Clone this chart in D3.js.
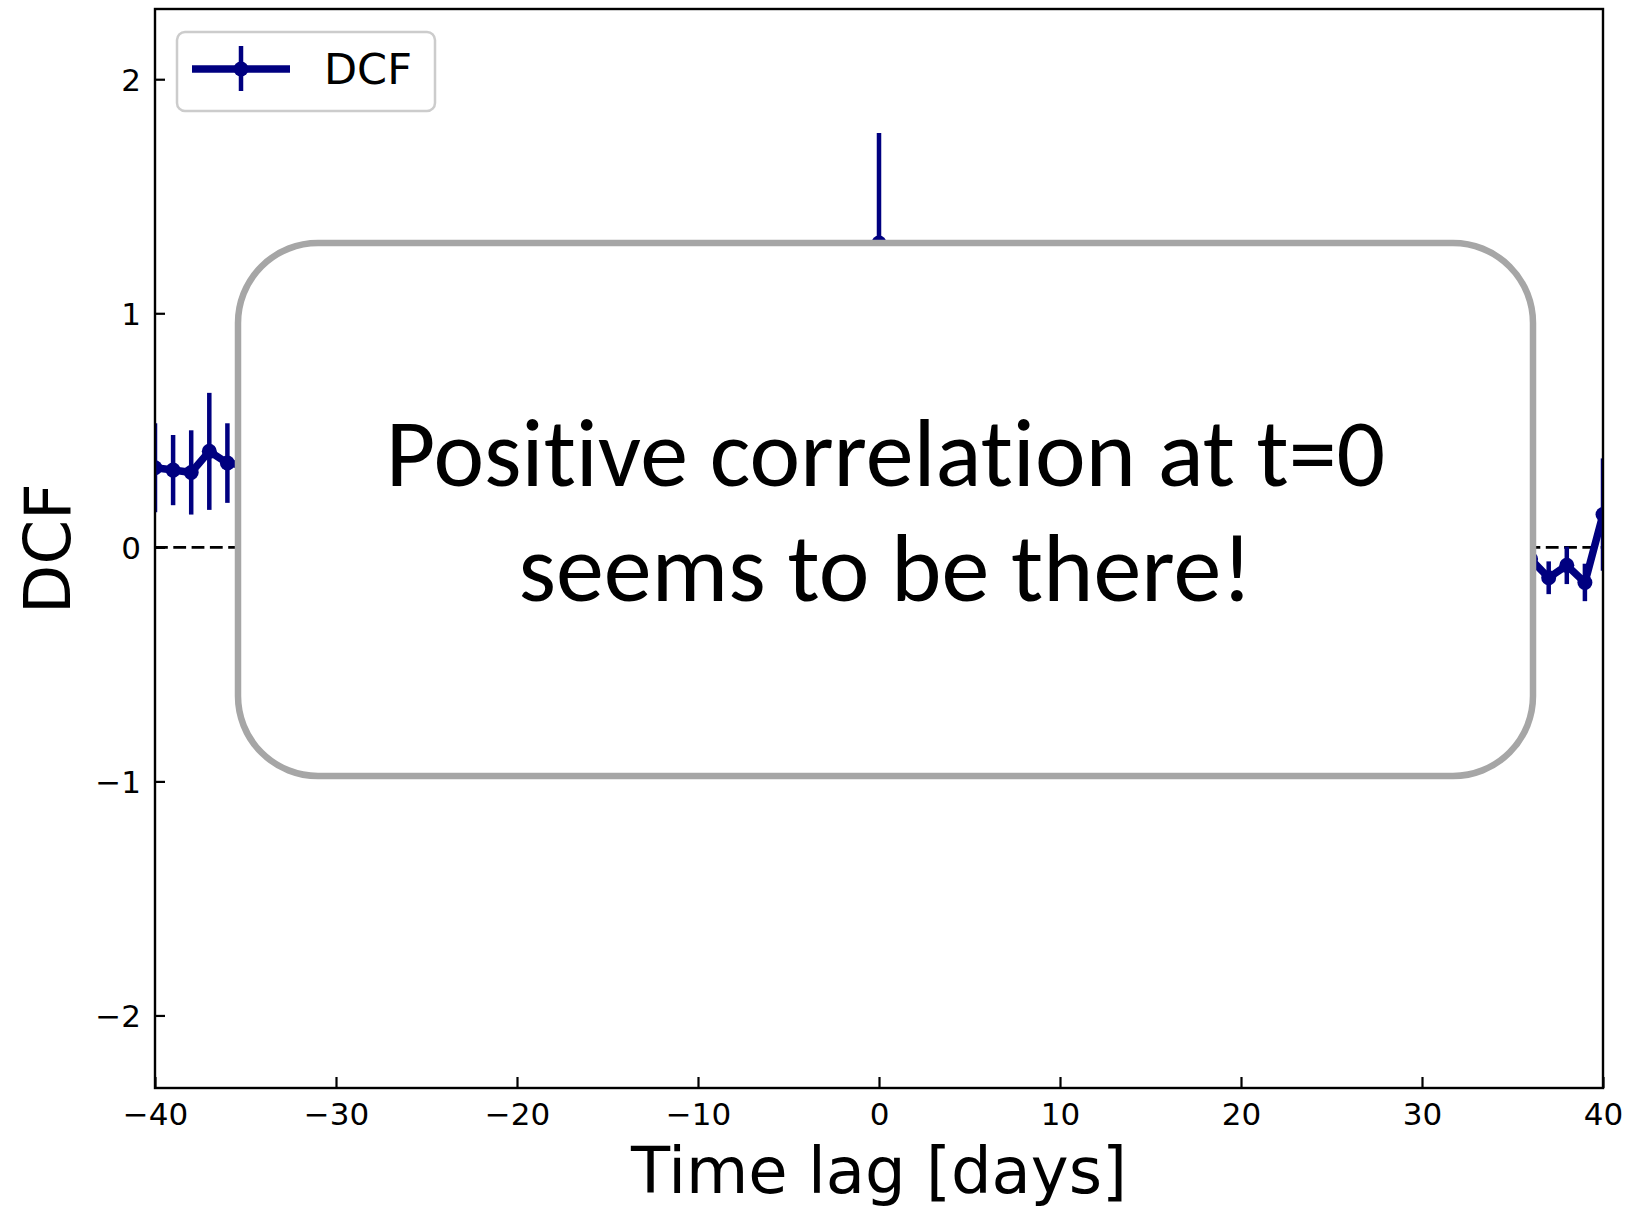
<!DOCTYPE html>
<html>
<head>
<meta charset="utf-8">
<script src="https://cdn.jsdelivr.net/npm/d3@7"></script>
<style>
  html, body { margin: 0; padding: 0; background: #fff; }
  svg { display: block; }
</style>
</head>
<body>
<svg id="chart" width="1630" height="1209"></svg>
<script>
// ---------------- data ----------------
const lags = [-40,-39,-38,-37,-36,-35,-34,-33,-32,-31,-30,-29,-28,-27,-26,-25,-24,-23,-22,-21,
  -20,-19,-18,-17,-16,-15,-14,-13,-12,-11,-10,-9,-8,-7,-6,-5,-4,-3,-2,-1,
  0,1,2,3,4,5,6,7,8,9,10,11,12,13,14,15,16,17,18,19,
  20,21,22,23,24,25,26,27,28,29,30,31,32,33,34,35,36,37,38,39,40];
const dcf = [0.34,0.33,0.32,0.41,0.36,0.35,0.28,0.22,0.15,0.18,0.10,0.05,-0.02,0.04,-0.08,-0.12,-0.05,0.02,0.08,0.12,
  0.06,-0.03,-0.10,-0.15,-0.09,-0.02,0.05,0.11,0.07,0.01,-0.06,-0.11,-0.04,0.03,0.09,0.14,0.20,0.27,0.38,0.55,
  1.30,0.52,0.35,0.22,0.14,0.06,-0.03,-0.09,-0.14,-0.08,0.01,0.07,0.12,0.05,-0.04,-0.12,-0.18,-0.11,-0.03,0.04,
  0.09,0.03,-0.06,-0.13,-0.19,-0.14,-0.07,0.00,0.06,0.02,-0.05,-0.10,-0.16,-0.12,-0.08,-0.06,-0.05,-0.13,-0.077,-0.15,0.14];
const dcfErr = [0.19,0.15,0.18,0.25,0.17,0.18,0.17,0.19,0.16,0.20,0.18,0.15,0.17,0.19,0.16,0.18,0.20,0.17,0.15,0.18,
  0.19,0.16,0.18,0.17,0.20,0.15,0.17,0.19,0.16,0.18,0.17,0.20,0.18,0.16,0.19,0.17,0.18,0.20,0.22,0.28,
  0.47,0.27,0.21,0.18,0.16,0.14,0.12,0.13,0.11,0.12,0.10,0.12,0.11,0.10,0.12,0.11,0.10,0.09,0.11,0.10,
  0.09,0.10,0.08,0.09,0.10,0.08,0.09,0.08,0.10,0.09,0.08,0.09,0.08,0.09,0.08,0.08,0.08,0.07,0.08,0.08,0.24];
const xTicks = [-40,-30,-20,-10,0,10,20,30,40];
const yTicks = [-2,-1,0,1,2];
const xDomain = [-40, 40];
const yDomain = [-2.31, 2.30];
const seriesName = "DCF";
const xLabel = "Time lag [days]";
const yLabel = "DCF";
const noteLines = ["Positive correlation at t=0", "seems to be there!"];

// ---------------- layout ----------------
const M = { left: 155, right: 1603, top: 9, bottom: 1088 };
const color = "#000080";
const svg = d3.select("#chart");

const x = d3.scaleLinear().domain(xDomain).range([M.left, M.right]);
const y = d3.scaleLinear().domain(yDomain).range([M.bottom, M.top]);

const data = lags.map((l, i) => ({ lag: l, v: dcf[i], e: dcfErr[i] }));

svg.append("defs").append("clipPath").attr("id", "plotclip")
  .append("rect").attr("x", M.left).attr("y", M.top)
  .attr("width", M.right - M.left).attr("height", M.bottom - M.top);

const plot = svg.append("g").attr("clip-path", "url(#plotclip)");

// zero reference line
plot.append("line")
  .attr("x1", x(xDomain[0])).attr("x2", x(xDomain[1]))
  .attr("y1", y(0)).attr("y2", y(0))
  .attr("stroke", "#000").attr("stroke-width", 2.6)
  .attr("stroke-dasharray", "12.8,5.5");

// error bars
plot.append("g").selectAll("line").data(data).join("line")
  .attr("x1", d => x(d.lag)).attr("x2", d => x(d.lag))
  .attr("y1", d => y(d.v - d.e)).attr("y2", d => y(d.v + d.e))
  .attr("stroke", color).attr("stroke-width", 4.5);

// line
plot.append("path").datum(data)
  .attr("d", d3.line().x(d => x(d.lag)).y(d => y(d.v)))
  .attr("fill", "none").attr("stroke", color).attr("stroke-width", 7.5)
  .attr("stroke-linejoin", "round");

// markers
plot.append("g").selectAll("circle").data(data).join("circle")
  .attr("cx", d => x(d.lag)).attr("cy", d => y(d.v)).attr("r", 7.5)
  .attr("fill", color);

// axes (ticks inward)
const fmt = d3.format("d");
const xAxis = d3.axisBottom(x).tickValues(xTicks).tickFormat(fmt).tickSizeInner(-11).tickSizeOuter(0).tickPadding(15);
const yAxis = d3.axisLeft(y).tickValues(yTicks).tickFormat(fmt).tickSizeInner(-10).tickSizeOuter(0).tickPadding(14);

const gx = svg.append("g").attr("transform", `translate(0,${M.bottom})`).call(xAxis);
const gy = svg.append("g").attr("transform", `translate(${M.left},0)`).call(yAxis);
[gx, gy].forEach(g => {
  g.select(".domain").remove();
  g.selectAll(".tick line").attr("stroke", "#000").attr("stroke-width", 2.2);
  g.selectAll(".tick text").attr("fill", "#000")
    .style("font-family", "'DejaVu Sans', sans-serif").style("font-size", "31px");
});
gy.selectAll(".tick text").attr("dy", "0.36em");

// spines
svg.append("rect").attr("x", M.left).attr("y", M.top)
  .attr("width", M.right - M.left).attr("height", M.bottom - M.top)
  .attr("fill", "none").attr("stroke", "#000").attr("stroke-width", 2.4);

// axis labels
svg.append("text").attr("x", (M.left + M.right) / 2).attr("y", 1193)
  .attr("text-anchor", "middle")
  .style("font-family", "'DejaVu Sans', sans-serif").style("font-size", "64px")
  .text(xLabel);
svg.append("text")
  .attr("transform", `translate(70,${(M.top + M.bottom) / 2}) rotate(-90)`)
  .attr("text-anchor", "middle")
  .style("font-family", "'DejaVu Sans', sans-serif").style("font-size", "64px")
  .text(yLabel);

// annotation box
const box = { x: 238, y: 243, w: 1533 - 238, h: 776 - 243, r: 80 };
svg.append("rect").attr("x", box.x).attr("y", box.y)
  .attr("width", box.w).attr("height", box.h)
  .attr("rx", box.r).attr("ry", box.r)
  .attr("fill", "#fff").attr("stroke", "#a6a6a6").attr("stroke-width", 6.5);

const noteTargets = [{ base: 486, width: 997 }, { base: 601, width: 727 }];
noteLines.forEach((t, i) => {
  const tx = svg.append("text")
    .attr("x", box.x + box.w / 2).attr("y", noteTargets[i].base)
    .attr("text-anchor", "middle")
    .style("font-family", "Carlito, 'Open Sans', sans-serif").style("font-size", "96px")
    .style("font-variant-ligatures", "none").style("font-feature-settings", "'liga' 0, 'clig' 0")
    .attr("fill", "#000")
    .text(t);
  const w = tx.node().getComputedTextLength();
  if (w > noteTargets[i].width * 1.03) {
    tx.attr("textLength", noteTargets[i].width).attr("lengthAdjust", "spacingAndGlyphs");
  }
});

// legend
const lg = svg.append("g");
lg.append("rect").attr("x", 177).attr("y", 32).attr("width", 258).attr("height", 79)
  .attr("rx", 8).attr("ry", 8)
  .attr("fill", "#fff").attr("stroke", "#cccccc").attr("stroke-width", 2.5);
lg.append("line").attr("x1", 192).attr("x2", 290).attr("y1", 69).attr("y2", 69)
  .attr("stroke", color).attr("stroke-width", 7.5);
lg.append("line").attr("x1", 241).attr("x2", 241).attr("y1", 46).attr("y2", 91)
  .attr("stroke", color).attr("stroke-width", 4.5);
lg.append("circle").attr("cx", 241).attr("cy", 69).attr("r", 7.5).attr("fill", color);
lg.append("text").attr("x", 324).attr("y", 84)
  .style("font-family", "'DejaVu Sans', sans-serif").style("font-size", "43px")
  .text(seriesName);
</script>
</body>
</html>
